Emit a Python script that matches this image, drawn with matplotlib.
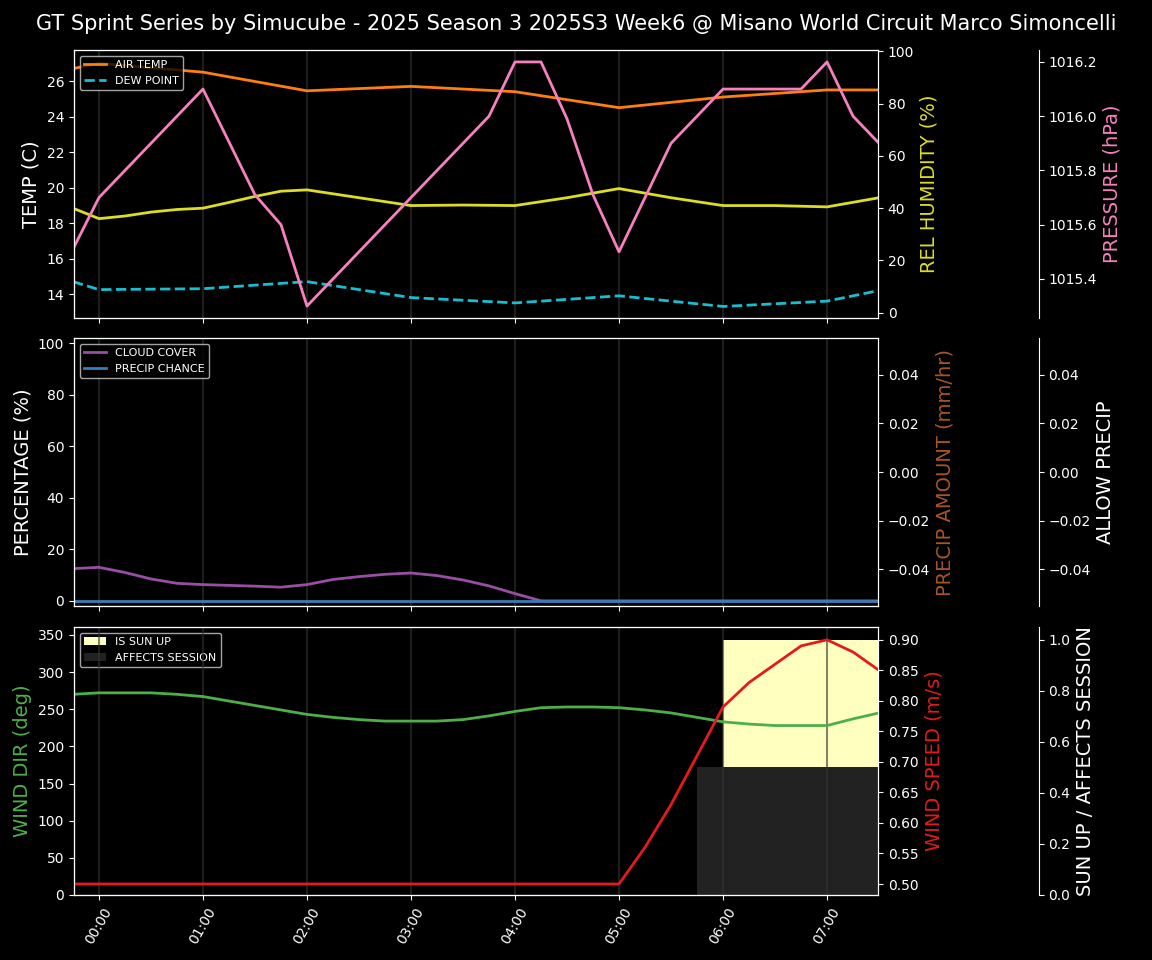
import matplotlib
matplotlib.use("Agg")
import matplotlib.pyplot as plt
import numpy as np

hour_ticks = [0, 1, 2, 3, 4, 5, 6, 7]
hour_labels = ["00:00", "01:00", "02:00", "03:00", "04:00", "05:00", "06:00", "07:00"]

t_temp = [-0.25, 0, 1, 2, 3, 4, 5, 6, 7, 7.5]
air_temp = [26.7, 27.0, 26.5, 25.45, 25.7, 25.4, 24.5, 25.1, 25.5, 25.5]
humidity = [40, 36, 40, 47, 41, 41, 48, 41, 41, 44]
dew_point = [14.7, 14.25, 14.3, 14.7, 13.8, 13.5, 13.9, 13.3, 13.6, 14.2]
hum_t = [-0.25, 0, 0.25, 0.5, 0.75, 1, 1.25, 1.5, 1.75, 2, 2.5, 3, 3.5, 4, 4.5, 5, 5.5, 6, 6.5, 7, 7.5]
humidity = [40, 36, 37, 38.5, 39.5, 40, 42.5, 45, 47.5, 50, 45, 41, 41.2, 41, 44, 48, 44.5, 41, 41, 41, 44]
hum_t = [-0.25, 0, 0.25, 0.5, 0.75, 1, 1.25, 1.5, 1.75, 2, 2.5, 3, 3.5, 4, 4.5, 5, 5.5, 6, 6.5, 7, 7.5]
humidity = [40, 36, 37, 38.5, 39.5, 40, 42.2, 44.5, 46.5, 47, 44, 41, 41.2, 41, 44, 47.5, 44, 41, 41, 40.5, 44]

t_pres = [-0.25, 0, 1, 1.5, 1.75, 2, 3, 3.75, 4, 4.25, 4.5, 4.75, 5, 5.5, 6, 6.75, 7, 7.25, 7.5]
pressure = [1015.51, 1015.70, 1016.10, 1015.71, 1015.60, 1015.30, 1015.70, 1016.00, 1016.20,
            1016.20, 1015.99, 1015.71, 1015.50, 1015.90, 1016.10, 1016.10, 1016.20, 1016.00, 1015.90]

t_q = list(np.arange(-0.25, 7.51, 0.25))
cloud = [12.5, 13, 11, 8.5, 6.8, 6.3, 6.0, 5.7, 5.3, 6.3, 8.3, 9.4, 10.3, 10.8, 9.8, 8.1, 5.8, 2.8, 0,
         0, 0, 0, 0, 0, 0, 0, 0, 0, 0, 0, 0, 0]
precip_chance = [0] * 32
precip_amount = [0] * 32
allow_precip = [0] * 32

wind_dir = [270, 272, 272, 272, 270, 267, 261, 255, 249, 243, 239, 236, 234, 234, 234, 236, 241, 247,
            252, 253, 253, 252, 249, 245, 239, 233, 230, 228, 228, 228, 237, 245]
wind_speed = [0.5] * 22 + [0.56, 0.63, 0.71, 0.79, 0.83, 0.86, 0.89, 0.90, 0.88, 0.85]
sun_up = [0] * 25 + [1] * 7
affects = [0] * 24 + [0.5] * 8

plt.style.use("dark_background")
fig = plt.figure(figsize=(11.52, 9.6), dpi=100)
fig.suptitle("GT Sprint Series by Simucube - 2025 Season 3 2025S3 Week6 @ Misano World Circuit Marco Simoncelli",
             fontsize=15, y=0.985)
L, W = 74/1152, 804/1152
def mk(top, bot):
    return fig.add_axes([L, 1 - bot/960, W, (bot - top)/960])
ax1 = mk(50, 318); ax2 = mk(338, 606); ax3 = mk(627, 895)
xlim = (-0.24, 7.49)
for ax in (ax1, ax2, ax3):
    ax.set_xlim(*xlim)
    ax.set_xticks(hour_ticks)
    for h in hour_ticks:
        ax.axvline(h, color="#333333", lw=1.5, alpha=0.6, zorder=0)
ax1.set_xticklabels([]); ax2.set_xticklabels([])
ax3.set_xticklabels(hour_labels, rotation=60)

# panel 1
ax1.plot(t_temp, air_temp, color="#ff7f0e", lw=2, label="AIR TEMP")
ax1.plot(t_temp, dew_point, color="#17becf", lw=2, ls="--", label="DEW POINT")
ax1.set_ylim(12.65, 27.75)
ax1.set_ylabel("TEMP (C)", fontsize=14)
ax1.legend(loc="upper left", fontsize=8)
a1b = ax1.twinx()
a1b.plot(hum_t, humidity, color="#dddd22", lw=2)
a1b.set_ylim(-2, 100.5)
a1b.set_ylabel("REL HUMIDITY (%)", color="#dddd22", fontsize=14)
a1c = ax1.twinx()
a1c.spines["right"].set_position(("axes", 1.2))
a1c.plot(t_pres, pressure, color="#f781bf", lw=2)
a1c.set_ylim(1015.256, 1016.244)
a1c.set_ylabel("PRESSURE (hPa)", color="#f781bf", fontsize=14)

# panel 2
ax2.plot(t_q, cloud, color="#984ea3", lw=2, label="CLOUD COVER")
ax2.plot(t_q, precip_chance, color="#377eb8", lw=2, label="PRECIP CHANCE")
ax2.set_ylim(-2, 102)
ax2.set_ylabel("PERCENTAGE (%)", fontsize=14)
ax2.legend(loc="upper left", fontsize=8)
a2b = ax2.twinx()
a2b.plot(t_q, precip_amount, color="#a65628", lw=0)
a2b.set_ylim(-0.055, 0.055)
a2b.set_ylabel("PRECIP AMOUNT (mm/hr)", color="#a65628", fontsize=14)
a2c = ax2.twinx()
a2c.spines["right"].set_position(("axes", 1.2))
a2c.plot(t_q, allow_precip, lw=0)
a2c.set_ylim(-0.055, 0.055)
a2c.set_ylabel("ALLOW PRECIP", fontsize=14)

# panel 3
a3c = ax3.twinx()
a3c.spines["right"].set_position(("axes", 1.2))
a3c.fill_between(t_q, sun_up, step="post", color="#ffffc0", lw=0, label="IS SUN UP")
a3c.fill_between(t_q, affects, step="post", color="#222222", lw=0, label="AFFECTS SESSION")
a3c.set_ylim(0, 1.05)
a3c.set_ylabel("SUN UP / AFFECTS SESSION", fontsize=14)
a3c.legend(loc="upper left", fontsize=8)
ax3.set_zorder(a3c.get_zorder() + 1); ax3.patch.set_visible(False)
ax3.plot(t_q, wind_dir, color="#4daf4a", lw=2)
ax3.set_ylim(0, 360.6)
ax3.set_ylabel("WIND DIR (deg)", color="#4daf4a", fontsize=14)
a3b = ax3.twinx()
a3b.plot(t_q, wind_speed, color="#e41a1c", lw=2)
a3b.set_ylim(0.482, 0.921)
a3b.set_ylabel("WIND SPEED (m/s)", color="#e41a1c", fontsize=14)

fig.savefig("out.png", dpi=100, facecolor="black")
